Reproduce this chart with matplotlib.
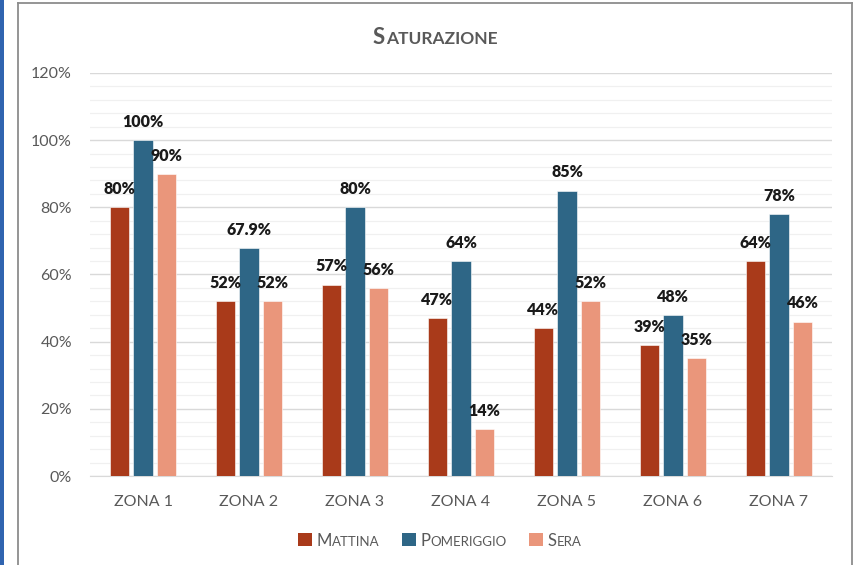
import numpy as np
import matplotlib
matplotlib.use("Agg")
import matplotlib.pyplot as plt
from matplotlib.offsetbox import TextArea, HPacker, DrawingArea, AnchoredOffsetbox
from matplotlib.patches import Rectangle
from matplotlib.lines import Line2D
from matplotlib.ticker import MultipleLocator, PercentFormatter

plt.rcParams["font.family"] = ["Lato", "DejaVu Sans"]

# Data
zones = ["ZONA 1", "ZONA 2", "ZONA 3", "ZONA 4", "ZONA 5", "ZONA 6", "ZONA 7"]
mattina = [80, 52, 57, 47, 44, 39, 64]
pomeriggio = [100, 67.9, 80, 64, 85, 48, 78]
sera = [90, 52, 56, 14, 52, 35, 46]

series_names = ["Mattina", "Pomeriggio", "Sera"]
series_colors = ["#A93A1A", "#2E6686", "#EA967B"]
series = [mattina, pomeriggio, sera]

GREY = "#595959"

fig = plt.figure(figsize=(8.54, 5.65), dpi=100)
ax = fig.add_axes([90 / 854, 1 - 476 / 565, (832 - 90) / 854, (476 - 73) / 565])

x = np.arange(len(zones))
width = 0.18
step = 0.222
for i, (vals, name, col) in enumerate(zip(series, series_names, series_colors)):
    pos = x + (i - 1) * step
    ax.bar(pos, np.array(vals) / 100, width=width, color=col, zorder=3,
           edgecolor="white", linewidth=0.4)
    for p, v in zip(pos, vals):
        ax.annotate(f"{v:g}%", (p, v / 100), xytext=(0, 9.5), textcoords="offset points",
                    ha="center", va="baseline", fontsize=11.5, fontweight="heavy",
                    color="#1a1a1a", zorder=4)

ax.set_xlim(-0.5, len(zones) - 0.5)
ax.set_ylim(0, 1.2)
ax.yaxis.set_major_locator(MultipleLocator(0.2))
ax.yaxis.set_minor_locator(MultipleLocator(0.04))
ax.yaxis.set_major_formatter(PercentFormatter(1.0, decimals=0))
ax.grid(axis="y", which="major", color="#d9d9d9", linewidth=1.0, zorder=0)
ax.grid(axis="y", which="minor", color="#f0f0f0", linewidth=0.9, zorder=0)
ax.set_xticks(x)
ax.set_xticklabels(zones)
ax.tick_params(axis="y", which="both", length=0, pad=13, labelsize=11.5, labelcolor=GREY)
ax.tick_params(axis="x", length=0, pad=14, labelsize=11.5, labelcolor=GREY)
for s in ["top", "right", "left"]:
    ax.spines[s].set_visible(False)
ax.spines["bottom"].set_color("#d9d9d9")
ax.set_axisbelow(True)


def small_caps(word, big, small, color, weight="normal"):
    """Pack a word as small caps: first letter large, the rest smaller capitals."""
    parts = [TextArea(word[0].upper(), textprops=dict(fontsize=big, color=color, fontweight=weight)),
             TextArea(word[1:].upper(), textprops=dict(fontsize=small, color=color, fontweight=weight))]
    return HPacker(children=parts, align="baseline", pad=0, sep=0.5)


# Title
title = small_caps("Saturazione", 16, 12.5, GREY, weight="bold")
fig.add_artist(AnchoredOffsetbox(loc="center", child=title, frameon=False,
                                 bbox_to_anchor=(435 / 854, 1 - 37 / 565),
                                 bbox_transform=fig.transFigure, pad=0, borderpad=0))

# Legend
entries = []
for name, col in zip(series_names, series_colors):
    da = DrawingArea(10, 10, 0, 0)
    da.add_artist(Rectangle((0, 0), 10, 10, facecolor=col, edgecolor="none"))
    entries.append(HPacker(children=[da, small_caps(name, 12, 9.5, GREY)],
                           align="baseline", pad=0, sep=3))
legend_box = HPacker(children=entries, align="center", pad=0, sep=16)
fig.add_artist(AnchoredOffsetbox(loc="center", child=legend_box, frameon=False,
                                 bbox_to_anchor=(440 / 854, 1 - 541 / 565),
                                 bbox_transform=fig.transFigure, pad=0, borderpad=0))

# Page frame and side accent
fig.add_artist(Rectangle((0, 0), 4 / 854, 1, transform=fig.transFigure,
                         facecolor="#3064B0", edgecolor="none"))
frame_col = "#8c8c8c"
fig.add_artist(Line2D([18 / 854, 18 / 854], [0, 1 - 3 / 565], transform=fig.transFigure,
                      color=frame_col, linewidth=1.3))
fig.add_artist(Line2D([852 / 854, 852 / 854], [0, 1 - 3 / 565], transform=fig.transFigure,
                      color=frame_col, linewidth=1.3))
fig.add_artist(Line2D([18 / 854, 852 / 854], [1 - 3 / 565, 1 - 3 / 565], transform=fig.transFigure,
                      color=frame_col, linewidth=1.3))

fig.savefig("out.png", dpi=100)
